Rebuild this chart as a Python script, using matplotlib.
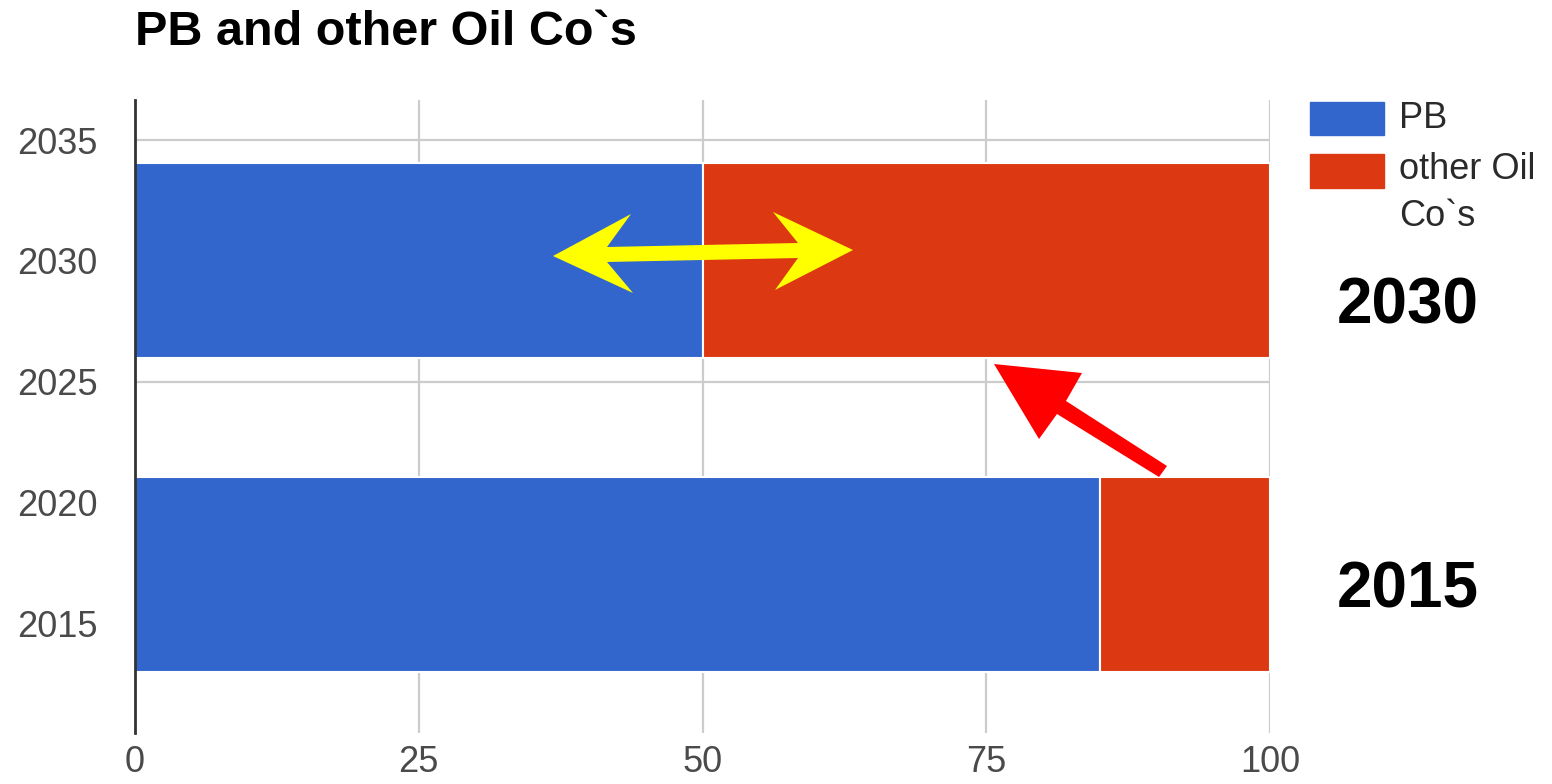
import matplotlib
matplotlib.use("Agg")
import matplotlib.pyplot as plt
from matplotlib.patches import Polygon, Rectangle

# ---- data ----
years = [2017, 2030]
pb = [85, 50]
other = [15, 50]
series_names = ["PB", "other Oil\nCo`s"]
colors = ["#3366CC", "#DC3912"]
x_ticks = [0, 25, 50, 75, 100]
y_ticks = [2015, 2020, 2025, 2030, 2035]
title = "PB and other Oil Co`s"
big_labels = ["2030", "2015"]

W, H = 1552, 784
fig = plt.figure(figsize=(W / 100, H / 100), dpi=100)
plt.rcParams['font.family'] = ['Liberation Sans', 'DejaVu Sans']

ax = fig.add_axes([135 / W, 1 - 733 / H, 1135 / W, 633 / H])
ax.set_xlim(0, 100)
ax.set_ylim(2010.45, 2036.66)

ax.barh(years, pb, height=8.08, color=colors[0], edgecolor="white", linewidth=1.5, zorder=3)
ax.barh(years, other, left=pb, height=8.08, color=colors[1], edgecolor="white", linewidth=1.5, zorder=3)

ax.set_xticks(x_ticks)
ax.set_yticks(y_ticks)
ax.grid(True, color="#CCCCCC", linewidth=1.6, zorder=0)
ax.set_axisbelow(True)
for s in ["top", "right", "bottom"]:
    ax.spines[s].set_visible(False)
ax.spines["left"].set_color("#333333")
ax.spines["left"].set_linewidth(2)
ax.spines["left"].set_zorder(4)
ax.tick_params(axis="both", length=0, labelsize=26, labelcolor="#4a4a4a")
ax.tick_params(axis="y", pad=27)
ax.tick_params(axis="x", pad=9)

fig.text(135 / W, 1 - 45 / H, title, fontsize=35, fontweight="bold", color="#000000",
         ha="left", va="baseline")

# legend
def px(x, y):
    return (x / W, 1 - y / H)

fig.patches.append(Rectangle(px(1310, 135), 74 / W, 33 / H, transform=fig.transFigure,
                             color=colors[0], figure=fig))
fig.patches.append(Rectangle(px(1310, 188), 74 / W, 34 / H, transform=fig.transFigure,
                             color=colors[1], figure=fig))
fig.text(1399 / W, 1 - 118 / H, series_names[0], fontsize=26, color="#2a2a2a", ha="left", va="center")
fig.text(1399 / W, 1 - 193 / H, series_names[1], fontsize=26, color="#2a2a2a", ha="left",
         va="center", linespacing=1.42)

# big labels
fig.text(1408 / W, 1 - 306 / H, big_labels[0], fontsize=46, fontweight="bold", ha="center", va="center")
fig.text(1408 / W, 1 - 591 / H, big_labels[1], fontsize=46, fontweight="bold", ha="center", va="center")

# yellow double arrow
yellow = [(553, 256), (631, 214), (607, 247), (798, 243), (773, 212), (853, 250),
          (775, 290), (798, 258), (607, 262), (633, 293)]
fig.patches.append(Polygon([px(*p) for p in yellow], closed=True, transform=fig.transFigure,
                           facecolor="#FFFF00", edgecolor="none", zorder=10, figure=fig))

# red arrow
red = [(994, 364), (1082, 373), (1066, 401), (1167, 466), (1159, 477), (1057, 414), (1039, 439)]
fig.patches.append(Polygon([px(*p) for p in red], closed=True, transform=fig.transFigure,
                           facecolor="#FF0000", edgecolor="none", zorder=10, figure=fig))

fig.savefig("out.png", dpi=100)
